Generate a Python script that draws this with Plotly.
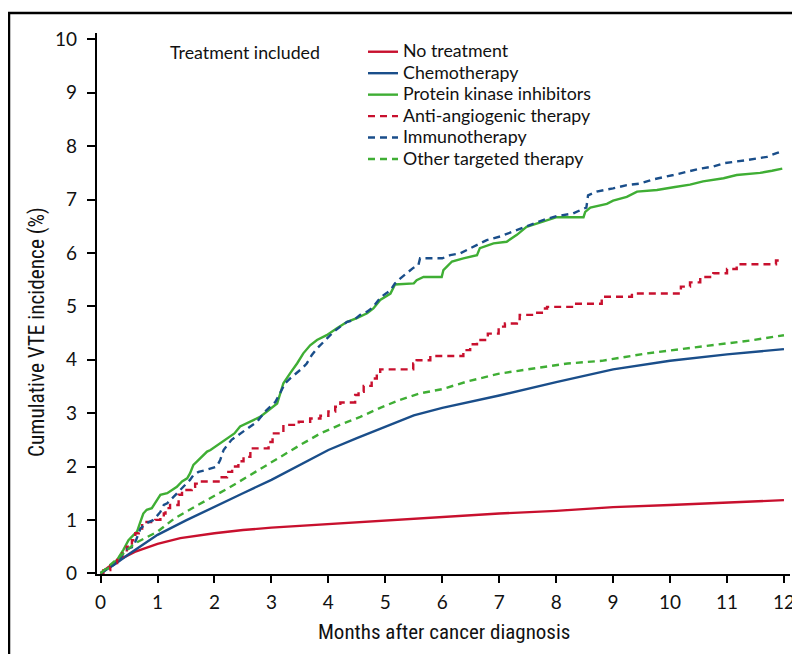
import plotly.graph_objects as go

# ---------------- data ----------------
series_names = ["No treatment", "Chemotherapy", "Protein kinase inhibitors",
                "Anti-angiogenic therapy", "Immunotherapy", "Other targeted therapy"]
legend_title = "Treatment included"
x_title = "Months after cancer diagnosis"
y_title = "Cumulative VTE incidence (%)"

none_x = [0, 0.14, 0.375, 0.6, 1.0, 1.4, 2.0, 2.5, 3, 4, 5, 6, 7, 8, 9, 10, 11, 12]
none_y = [0, 0.12, 0.28, 0.4, 0.55, 0.66, 0.75, 0.81, 0.855, 0.92, 0.985, 1.06, 1.12, 1.17, 1.24, 1.28, 1.32, 1.37]

chemo_x = [0, 0.25, 0.5, 1, 1.5, 2, 2.5, 3, 3.5, 4, 4.5, 5, 5.5, 6, 7, 8, 9, 10, 11, 12]
chemo_y = [0, 0.17, 0.36, 0.72, 0.99, 1.25, 1.5, 1.75, 2.03, 2.31, 2.53, 2.75, 2.96, 3.1, 3.33, 3.58, 3.82, 3.98, 4.1, 4.2]

pki_x = [0, 0.02, 0.17, 0.29, 0.40, 0.49, 0.58, 0.64, 0.70, 0.75, 0.81, 0.90, 0.99, 1.05, 1.17,
         1.25, 1.34, 1.43, 1.52, 1.57, 1.63, 1.69, 1.75, 1.87, 1.93, 2.05, 2.2, 2.35, 2.45, 2.80,
         3.10, 3.16, 3.21, 3.33, 3.45, 3.56, 3.68, 3.80, 3.97, 4.15, 4.33, 4.50, 4.68, 4.79, 4.91,
         5.09, 5.17, 5.50, 5.55, 5.67, 5.99, 6.02, 6.17, 6.37, 6.61, 6.66, 6.90, 7.13, 7.31, 7.48,
         7.66, 7.84, 8.01, 8.48, 8.51, 8.60, 8.89, 9.0, 9.24, 9.42, 9.77, 10.06, 10.35, 10.58, 10.94,
         11.17, 11.58, 11.79, 11.97]
pki_y = [0, 0.02, 0.12, 0.25, 0.44, 0.62, 0.72, 0.78, 0.97, 1.12, 1.19, 1.22, 1.37, 1.47, 1.50,
         1.55, 1.62, 1.72, 1.78, 1.87, 2.03, 2.09, 2.15, 2.28, 2.31, 2.40, 2.50, 2.62, 2.75, 2.93,
         3.18, 3.37, 3.56, 3.75, 3.93, 4.12, 4.27, 4.37, 4.46, 4.59, 4.71, 4.78, 4.87, 4.96, 5.12,
         5.24, 5.41, 5.43, 5.49, 5.55, 5.55, 5.68, 5.84, 5.90, 5.96, 6.09, 6.18, 6.21, 6.34, 6.49,
         6.55, 6.62, 6.67, 6.67, 6.77, 6.85, 6.92, 6.98, 7.05, 7.15, 7.18, 7.23, 7.28, 7.34, 7.40,
         7.46, 7.50, 7.54, 7.58]

angio_x = [0, 0.05, 0.17, 0.29, 0.38, 0.46, 0.55, 0.61, 0.67, 0.73, 0.96, 1.05, 1.11, 1.14, 1.22,
           1.37, 1.43, 1.60, 1.66, 1.78, 2.10, 2.22, 2.31, 2.42, 2.51, 2.63, 2.95, 3.02, 3.21, 3.48,
           3.68, 3.86, 4.0, 4.12, 4.21, 4.47, 4.53, 4.62, 4.76, 4.85, 4.91, 5.49, 5.55, 5.79, 6.37,
           6.49, 6.61, 6.80, 6.99, 7.10, 7.31, 7.36, 7.60, 7.78, 7.84, 8.30, 8.80, 9.33, 10.19, 10.35,
           10.53, 10.76, 11.0, 11.17, 11.86, 11.95]
angio_y = [0, 0.06, 0.19, 0.31, 0.37, 0.50, 0.62, 0.75, 0.84, 0.96, 1.0, 1.06, 1.12, 1.22, 1.28,
           1.47, 1.56, 1.62, 1.68, 1.72, 1.80, 1.90, 2.0, 2.10, 2.18, 2.34, 2.46, 2.62, 2.78, 2.84,
           2.90, 2.95, 3.03, 3.12, 3.20, 3.34, 3.40, 3.51, 3.65, 3.75, 3.82, 3.93, 3.99, 4.07, 4.18,
           4.29, 4.37, 4.49, 4.62, 4.68, 4.76, 4.84, 4.88, 4.96, 4.99, 5.05, 5.18, 5.24, 5.37, 5.45,
           5.55, 5.62, 5.70, 5.79, 5.86, 5.86]

immuno_x = [0, 0.23, 0.35, 0.43, 0.58, 0.64, 0.70, 0.81, 0.93, 1.05, 1.11, 1.17, 1.28, 1.40, 1.49,
            1.57, 1.63, 1.72, 1.84, 1.98, 2.04, 2.10, 2.16, 2.30, 2.51, 2.63, 2.75, 2.89, 2.98, 3.07,
            3.15, 3.24, 3.33, 3.45, 3.54, 3.62, 3.71, 3.80, 3.89, 4.0, 4.09, 4.21, 4.33, 4.44, 4.56,
            4.68, 4.79, 4.88, 4.97, 5.09, 5.17, 5.26, 5.38, 5.49, 5.58, 5.61, 6.0, 6.14, 6.31, 6.61,
            6.78, 7.02, 7.31, 7.48, 7.78, 8.01, 8.30, 8.42, 8.53, 8.56, 8.71, 9.0, 9.24, 9.47, 9.71,
            10.06, 10.29, 10.53, 10.76, 10.94, 11.35, 11.70, 11.87, 11.95]
immuno_y = [0, 0.16, 0.28, 0.44, 0.50, 0.69, 0.84, 0.94, 1.0, 1.15, 1.28, 1.31, 1.43, 1.56, 1.65,
            1.75, 1.84, 1.90, 1.93, 1.97, 2.0, 2.12, 2.31, 2.50, 2.65, 2.75, 2.84, 3.03, 3.12, 3.21,
            3.37, 3.56, 3.65, 3.75, 3.84, 3.93, 4.09, 4.21, 4.31, 4.43, 4.52, 4.62, 4.71, 4.74, 4.84,
            4.90, 4.99, 5.12, 5.21, 5.30, 5.43, 5.52, 5.62, 5.72, 5.77, 5.90, 5.90, 5.96, 5.99, 6.15,
            6.24, 6.31, 6.43, 6.49, 6.62, 6.69, 6.74, 6.80, 6.85, 7.08, 7.15, 7.21, 7.27, 7.30, 7.38,
            7.46, 7.52, 7.58, 7.62, 7.68, 7.74, 7.80, 7.87, 7.90]

other_x = [0, 0.26, 0.6, 1.0, 1.3, 1.66, 2.0, 2.25, 2.72, 3.15, 3.5, 3.86, 4.2, 4.56, 4.91, 5.26,
           5.61, 6.0, 6.43, 7.0, 7.6, 8.2, 8.8, 9.6, 10.2, 10.8, 11.4, 12]
other_y = [0, 0.25, 0.56, 0.78, 1.03, 1.25, 1.45, 1.6, 1.9, 2.18, 2.4, 2.62, 2.78, 2.93, 3.1, 3.25,
           3.37, 3.45, 3.59, 3.74, 3.84, 3.93, 3.98, 4.12, 4.2, 4.28, 4.36, 4.46]

x_ticks = list(range(0, 13))
y_ticks = list(range(0, 11))

# ---------------- styles ----------------
RED = "#C8102E"
BLUE = "#1A4E8A"
GREEN = "#3FAE34"
DASH = "7px,5px"
LW = 2.4
LEG_PX = 17.8

OFF = 8                      # page body margin in the browser
W, H = 800 - OFF, 654 - OFF
# plot area in screenshot pixels
P_LEFT, P_RIGHT, P_TOP, P_BOTTOM = 97, 790, 33, 574
ML = P_LEFT - OFF
MR = W - (P_RIGHT - OFF)
MT = P_TOP - OFF
MB = H - (P_BOTTOM - OFF)

fig = go.Figure()

def add(name, xs, ys, color, dash, shape):
    fig.add_trace(go.Scatter(
        x=xs, y=ys, mode="lines",
        name='<span style="font-size:%spx">%s</span>' % (LEG_PX, name),
        line=dict(color=color, width=LW, dash=dash, shape=shape),
        hoverinfo="skip"))

add(series_names[0], none_x, none_y, RED, "solid", "linear")
add(series_names[1], chemo_x, chemo_y, BLUE, "solid", "linear")
add(series_names[2], pki_x, pki_y, GREEN, "solid", "linear")
add(series_names[3], angio_x, angio_y, RED, DASH, "hv")
add(series_names[4], immuno_x, immuno_y, BLUE, DASH, "linear")
add(series_names[5], other_x, other_y, GREEN, DASH, "linear")

pw = W - ML - MR
ph = H - MT - MB

def px_x(p):  # screenshot px -> paper
    return (p - OFF - ML) / pw

def px_y(p):
    return (H - MB - (p - OFF)) / ph

SANS = "Lato, 'Open Sans', sans-serif"
TICKFONT = dict(family=SANS, size=19, color="#111")
COND = "'Liberation Sans Narrow', 'Roboto Condensed', Roboto, sans-serif"

fig.update_layout(
    width=W, height=H,
    margin=dict(l=ML, r=MR, t=MT, b=MB, autoexpand=False),
    paper_bgcolor="white", plot_bgcolor="white",
    showlegend=True,
    legend=dict(
        x=px_x(363), y=px_y(36), xanchor="left", yanchor="top",
        bgcolor="rgba(0,0,0,0)",
        font=dict(family=SANS, size=14.2, color="#111"),
        itemwidth=30, tracegroupgap=0,
    ),
    xaxis=dict(
        range=[-0.063, 12.106], tickmode="array", tickvals=x_ticks,
        ticktext=[str(v) for v in x_ticks], automargin=False,
        showgrid=False, zeroline=False, showline=True, linecolor="#000", linewidth=2.4,
        ticks="outside", ticklen=7, tickwidth=2, tickcolor="#000",
        tickfont=TICKFONT, ticklabelstandoff=3,
    ),
    yaxis=dict(
        range=[-0.013, 10.12], tickmode="array", tickvals=y_ticks,
        ticktext=[str(v) for v in y_ticks], automargin=False,
        showgrid=False, zeroline=False, showline=True, linecolor="#000", linewidth=2.4,
        ticks="outside", ticklen=8, tickwidth=2, tickcolor="#000",
        tickfont=TICKFONT, ticklabelstandoff=6,
    ),
    annotations=[
        dict(text=legend_title, xref="paper", yref="paper",
             x=px_x(168), y=px_y(52), xanchor="left", yanchor="middle",
             showarrow=False, font=dict(family=SANS, size=LEG_PX, color="#111")),
        dict(text=x_title, xref="paper", yref="paper",
             x=px_x(444), y=px_y(632), xanchor="center", yanchor="middle",
             showarrow=False, font=dict(family=COND, size=21, color="#111")),
        dict(text=y_title, xref="paper", yref="paper",
             x=px_x(37), y=px_y(332), xanchor="center", yanchor="middle",
             textangle=-90, showarrow=False, font=dict(family=COND, size=21.3, color="#111")),
    ],
    shapes=[
        dict(type="line", xref="paper", yref="paper",
             x0=px_x(8), x1=px_x(805), y0=px_y(13), y1=px_y(13),
             line=dict(color="#000", width=2.5)),
        dict(type="line", xref="paper", yref="paper",
             x0=px_x(9), x1=px_x(9), y0=px_y(12), y1=px_y(660),
             line=dict(color="#000", width=2.5)),
    ],
)

fig.write_html("out.html")
